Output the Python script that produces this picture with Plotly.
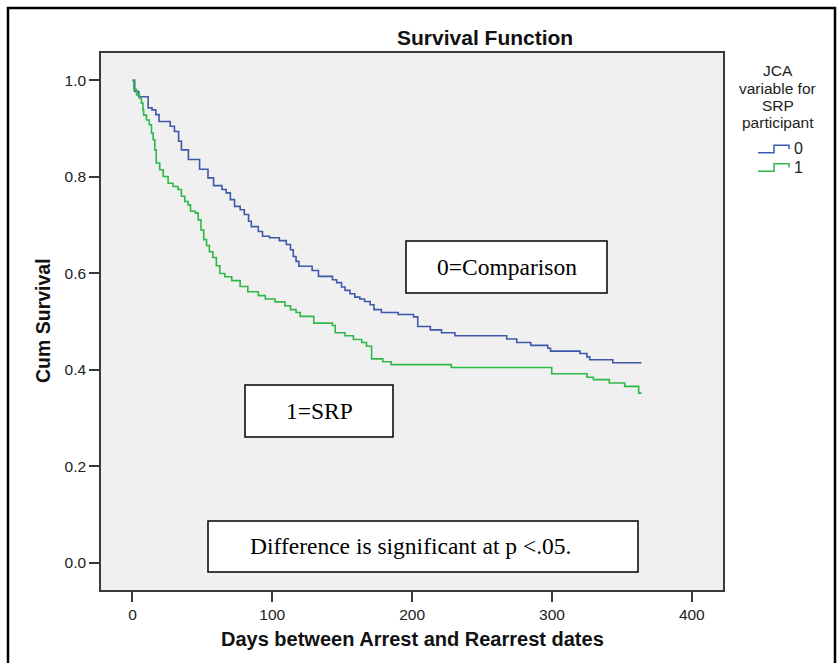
import plotly.graph_objects as go

# ---------------- data ----------------
days_0 = [0, 1.6, 4.5, 11.2, 14, 16.7, 19, 27, 30, 33,
          35, 40, 48, 54, 58, 64, 67, 70, 73, 77,
          80, 83, 85, 90, 93, 98, 105, 110, 113, 115,
          117, 119, 128.5, 133, 143, 146, 149.5, 152, 155.5, 159,
          162.6, 166, 170, 172.7, 178, 190, 201, 204, 213, 221,
          230.6, 267.6, 274.8, 284.8, 297, 299, 320, 325, 327, 343.5,
          364]
surv_0 = [1.0, 0.977, 0.966, 0.943, 0.939, 0.929, 0.915, 0.905, 0.894, 0.874,
          0.856, 0.836, 0.816, 0.798, 0.782, 0.774, 0.767, 0.753, 0.739, 0.732,
          0.722, 0.708, 0.697, 0.687, 0.677, 0.674, 0.668, 0.660, 0.649, 0.635,
          0.625, 0.615, 0.606, 0.594, 0.587, 0.581, 0.572, 0.565, 0.558, 0.551,
          0.547, 0.542, 0.535, 0.525, 0.519, 0.515, 0.510, 0.490, 0.483, 0.477,
          0.471, 0.464, 0.457, 0.451, 0.445, 0.439, 0.434, 0.427, 0.421, 0.415,
          0.415]

days_1 = [0, 1, 3, 5, 6.4, 7.5, 8, 10, 12, 13.6,
          14.8, 16, 17, 19.5, 22, 25.5, 29, 32.6, 35, 37.4,
          39.8, 41.5, 45, 47, 49, 51, 53, 55, 57.5, 60,
          62.5, 66, 71, 77, 82.5, 90, 95, 102, 109, 113,
          117, 120, 129.7, 143, 145, 152, 158, 164, 167.4, 171,
          179, 185, 228, 299.8, 325, 329.6, 341, 352, 362, 364]
surv_1 = [1.0, 0.981, 0.970, 0.963, 0.953, 0.939, 0.928, 0.918, 0.908, 0.891,
          0.877, 0.856, 0.829, 0.815, 0.801, 0.787, 0.780, 0.774, 0.760, 0.749,
          0.742, 0.729, 0.725, 0.711, 0.690, 0.670, 0.658, 0.645, 0.633, 0.616,
          0.600, 0.593, 0.585, 0.573, 0.562, 0.554, 0.547, 0.541, 0.533, 0.525,
          0.519, 0.511, 0.497, 0.492, 0.477, 0.471, 0.463, 0.457, 0.449, 0.423,
          0.417, 0.411, 0.405, 0.392, 0.385, 0.380, 0.373, 0.366, 0.352, 0.352]

group_labels = ["0", "1"]
x_tick_vals = [0, 100, 200, 300, 400]
y_tick_vals = [0.0, 0.2, 0.4, 0.6, 0.8, 1.0]
y_tick_text = ["0.0", "0.2", "0.4", "0.6", "0.8", "1.0"]
title_text = "Survival Function"
x_title = "Days between Arrest and Rearrest dates"
y_title = "Cum Survival"
legend_title_lines = ["JCA", "variable for", "SRP", "participant"]
note_comparison = "0=Comparison"
note_srp = "1=SRP"
note_sig = "Difference is significant at p <.05."

# ---------------- layout helpers ----------------
W, H = 838, 663
L, R, T, B = 101, 115, 53, 73
PW = W - L - R
PH = H - T - B


def px(x):
    return (x - L) / PW


def py(y):
    return (H - B - y) / PH


BLUE = "#3E58AC"
GREEN = "#2EB848"
SANS = "Liberation Sans, Arial, sans-serif"
SERIF = "Liberation Serif, Times New Roman, serif"

fig = go.Figure()
fig.add_trace(go.Scatter(x=days_0, y=surv_0, mode="lines", name=group_labels[0],
                         line=dict(shape="hv", color=BLUE, width=1.6), showlegend=False))
fig.add_trace(go.Scatter(x=days_1, y=surv_1, mode="lines", name=group_labels[1],
                         line=dict(shape="hv", color=GREEN, width=1.6), showlegend=False))

axis_common = dict(showgrid=False, zeroline=False, showline=True, mirror=True,
                   linecolor="#3a3a3a", linewidth=1.5, ticks="outside", ticklen=10,
                   tickwidth=1.5, tickcolor="#3a3a3a",
                   tickfont=dict(family=SANS, size=15.5, color="#222"))

fig.update_layout(
    width=W, height=H,
    margin=dict(l=L, r=R, t=T, b=B, pad=0),
    paper_bgcolor="white", plot_bgcolor="#f0f0f0",
    xaxis=dict(range=[-22.5, 422.3], tickvals=x_tick_vals, **axis_common),
    yaxis=dict(range=[-0.056, 1.0568], tickvals=y_tick_vals, ticktext=y_tick_text,
               **axis_common),
    showlegend=False,
)

shapes = []
annotations = []

# outer frame
shapes.append(dict(type="rect", xref="paper", yref="paper",
                   x0=px(8), x1=px(835), y0=py(700), y1=py(8),
                   line=dict(color="black", width=2.5), fillcolor="rgba(0,0,0,0)"))

# text boxes
for (x0, x1, y0, y1) in [(406, 607, 241, 293), (245, 393, 385, 437), (208, 638, 521, 572)]:
    shapes.append(dict(type="rect", xref="paper", yref="paper",
                       x0=px(x0), x1=px(x1), y0=py(y1), y1=py(y0),
                       line=dict(color="black", width=1.5), fillcolor="white", layer="above"))

for text, cx, cy in [(note_comparison, 507, 267), (note_srp, 319, 411), (note_sig, 410, 546)]:
    annotations.append(dict(text=text, xref="paper", yref="paper", x=px(cx), y=py(cy),
                            xanchor="center", yanchor="middle", showarrow=False,
                            font=dict(family=SERIF, size=23.5, color="black")))

# title and axis titles
annotations.append(dict(text="<b>" + title_text + "</b>", xref="paper", yref="paper",
                        x=px(485), y=py(37), xanchor="center", yanchor="middle",
                        showarrow=False, font=dict(family=SANS, size=21, color="#111")))
annotations.append(dict(text="<b>" + x_title + "</b>", xref="paper", yref="paper",
                        x=px(412), y=py(639), xanchor="center", yanchor="middle",
                        showarrow=False, font=dict(family=SANS, size=20, color="#111")))
annotations.append(dict(text="<b>" + y_title + "</b>", xref="paper", yref="paper",
                        x=px(43), y=py(321), xanchor="center", yanchor="middle",
                        textangle=-90, showarrow=False,
                        font=dict(family=SANS, size=19.5, color="#111")))

# manual legend (step-shaped symbols as in the reference)
for i, line in enumerate(legend_title_lines):
    annotations.append(dict(text=line, xref="paper", yref="paper",
                            x=px(778), y=py(71 + i * 17.3), xanchor="center", yanchor="middle",
                            showarrow=False, font=dict(family=SANS, size=15.5, color="#222")))

for label, color, cy in [(group_labels[0], BLUE, 148.5), (group_labels[1], GREEN, 167)]:
    lo, hi = cy + 4.2, cy - 3.3
    path = (f"M {px(758)},{py(lo)} L {px(774)},{py(lo)} L {px(774)},{py(hi)} "
            f"L {px(789)},{py(hi)} L {px(789)},{py(cy + 0.5)}")
    shapes.append(dict(type="path", xref="paper", yref="paper", path=path,
                       line=dict(color=color, width=1.5)))
    annotations.append(dict(text=label, xref="paper", yref="paper",
                            x=px(792), y=py(cy), xanchor="left", yanchor="middle",
                            showarrow=False, font=dict(family=SANS, size=16, color="#222")))

fig.update_layout(shapes=shapes, annotations=annotations)

fig.write_html("out.html", config={"displayModeBar": False},
               post_script="document.body.style.margin='0';document.body.style.overflow='hidden';")
